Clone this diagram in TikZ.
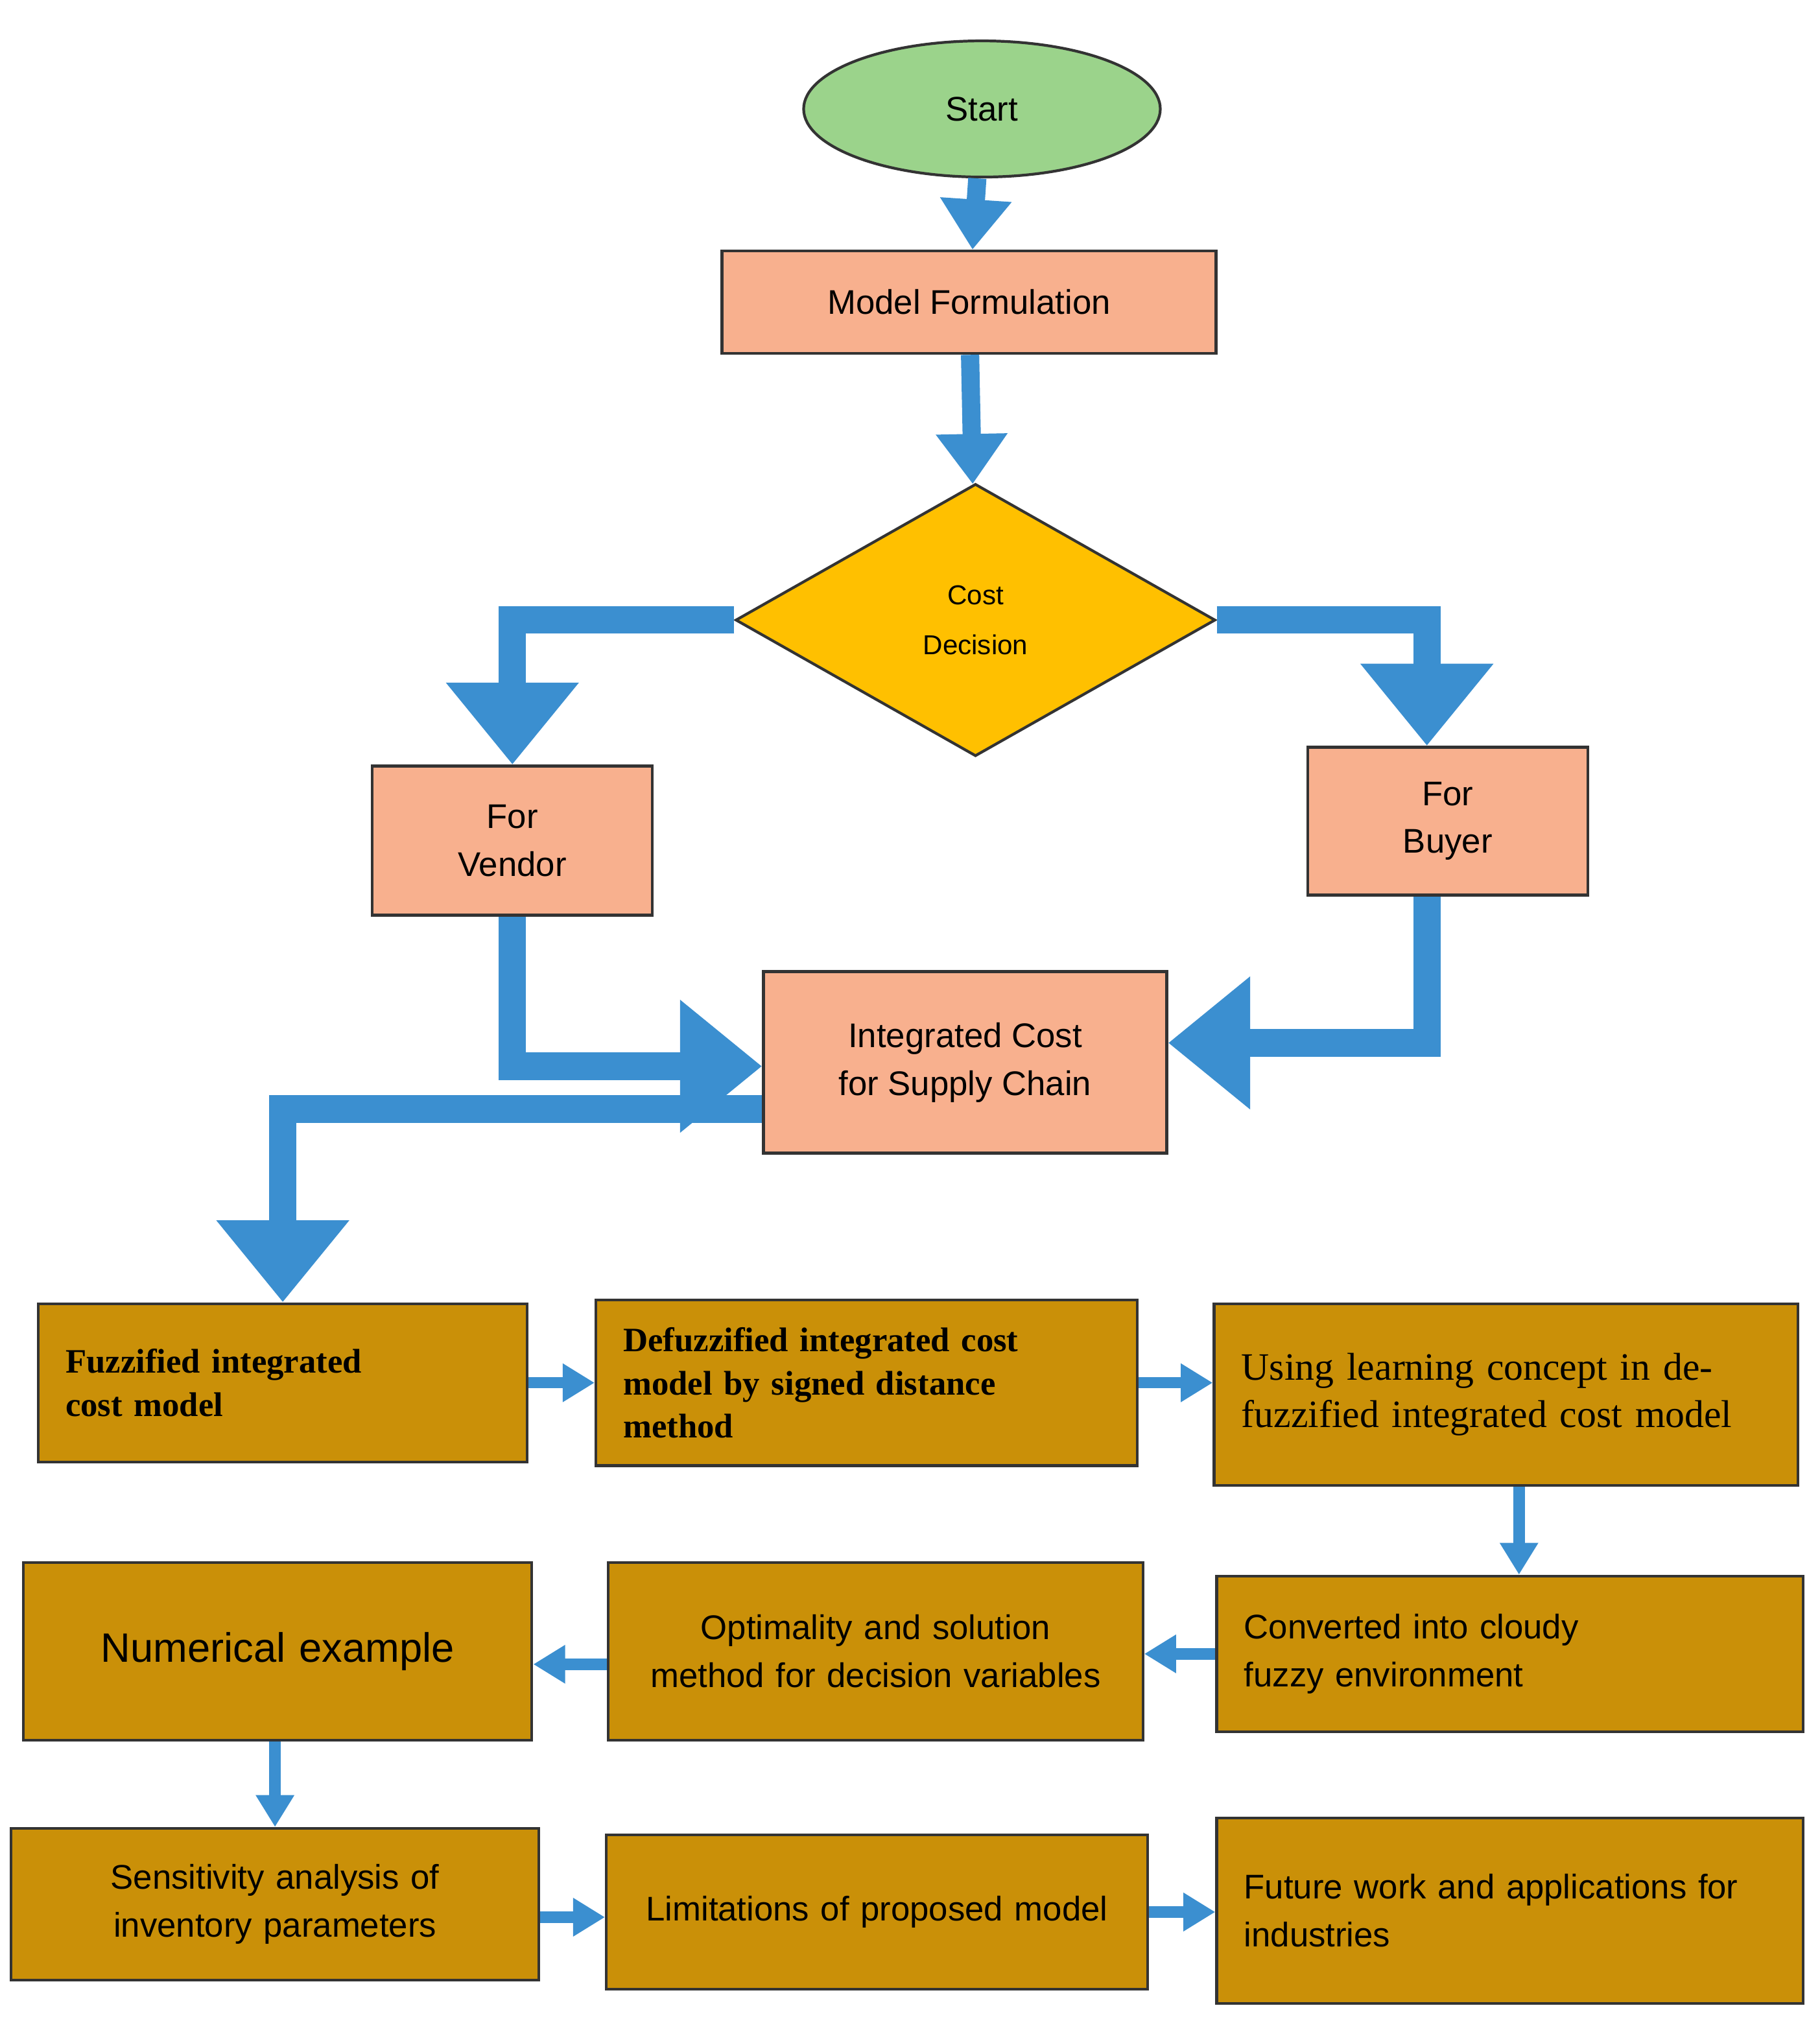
\documentclass[tikz,border=0pt]{standalone}
\usepackage{fontspec}
\setmainfont{Liberation Sans}
\newfontfamily\serifbf{Liberation Serif}
\usetikzlibrary{shapes.geometric,arrows.meta}
\definecolor{flowblue}{HTML}{3B8FD0}
\definecolor{salmon}{HTML}{F8B08E}
\definecolor{gold}{HTML}{CA9008}
\definecolor{startgreen}{HTML}{9BD38B}
\definecolor{decyellow}{HTML}{FFC000}
\tikzset{
  stage/.style={draw=black!80,line width=1.2pt,fill=salmon,align=center,
    font=\fontsize{15}{21}\selectfont,inner sep=4pt},
  task/.style={draw=black!80,line width=1.2pt,fill=gold,inner sep=12pt,
    font=\fontsize{15}{21}\selectfont},
  thin flow/.style={flowblue,line width=5pt,-{Triangle[length=14pt,width=16pt]}},
  flow/.style={flowblue,line width=8pt,-{Triangle[length=22pt,width=30pt]}},
  big flow/.style={flowblue,line width=12pt,-{Triangle[length=36pt,width=56pt]}}
}
\begin{document}
\begin{tikzpicture}[x=0.02cm,y=-0.02cm]
  \useasboundingbox[fill=white] (0,0) rectangle (1403,1575);
  \node[ellipse,draw=black!80,line width=1.2pt,fill=startgreen,minimum width=5.5cm,
    minimum height=2.1cm,font=\fontsize{15}{19}\selectfont] (start) at (757,84) {Start};
  \node[stage,minimum width=7.62cm,minimum height=1.58cm] (model) at (747,233) {Model Formulation};
  \node[diamond,draw=black!80,line width=1.2pt,fill=decyellow,minimum width=7.4cm,
    minimum height=4.2cm,aspect=1.77,align=center,font=\fontsize{12}{22}\selectfont]
    (dec) at (752,478) {Cost\\Decision};
  \node[stage,minimum width=4.32cm,minimum height=2.3cm] (vendor) at (395,648) {For\\Vendor};
  \node[stage,minimum width=4.32cm,minimum height=2.28cm] (buyer) at (1116,633) {For\\Buyer};
  \node[stage,minimum width=6.22cm,minimum height=2.8cm] (integ) at (744,819)
    {Integrated Cost\\for Supply Chain};

  % fuzzy model part
  \node[task,text width=6.7cm,minimum height=2.44cm,font=\serifbf\bfseries\fontsize{15}{19}\selectfont]
    (fuzz) at (218,1066) {Fuzzified integrated\\cost model\\[4pt]};
  \node[task,text width=7.5cm,minimum height=2.52cm,font=\serifbf\bfseries\fontsize{15}{19}\selectfont]
    (defuzz) at (668,1066) {Defuzzified integrated cost model by signed distance method};
  \node[task,text width=8.16cm,minimum height=2.8cm,font=\serifbf\fontsize{17}{21}\selectfont]
    (learn) at (1161,1075) {Using learning concept in defuzzified integrated cost model};
  \node[task,text width=8.2cm,minimum height=2.4cm] (cloudy) at (1164,1275)
    {Converted into cloudy\\fuzzy environment};
  \node[task,text width=7.4cm,minimum height=2.74cm,align=center] (optim) at (675,1273)
    {Optimality and solution method for decision variables};
  \node[task,text width=7.0cm,minimum height=2.74cm,align=center,font=\fontsize{18}{22}\selectfont]
    (numer) at (214,1273) {Numerical example};
  \node[task,text width=7.3cm,minimum height=2.34cm,align=center] (sens) at (212,1468)
    {Sensitivity analysis of inventory parameters};
  \node[task,text width=7.5cm,minimum height=2.38cm,align=center] (limit) at (676,1474)
    {Limitations of proposed model};
  \node[task,text width=8.2cm,minimum height=2.86cm] (future) at (1164,1473)
    {Future work and applications for industries};

  \draw[flow] (start) -- (model);
  \draw[flow] (model) -- (dec);
  \draw[big flow] (dec.west) -| (vendor.north);
  \draw[big flow] (dec.east) -| ([xshift=-0.32cm]buyer.north);
  \draw[big flow] (vendor.south) |- ([yshift=-0.06cm]integ.west);
  \draw[big flow] ([xshift=-0.32cm]buyer.south) |- ([yshift=0.3cm]integ.east);
  \draw[big flow] ([yshift=-0.72cm]integ.west) -| (fuzz.north);
  \draw[thin flow] (fuzz) -- (defuzz);
  \draw[thin flow] (defuzz) -- (learn.west |- defuzz);
  \draw[thin flow] ([xshift=0.2cm]learn.south) -- ([xshift=0.2cm]learn.south |- cloudy.north);
  \draw[thin flow] (cloudy.west) -- (optim.east |- cloudy.west);
  \draw[thin flow] ([yshift=-0.2cm]optim.west) -- ([yshift=-0.2cm]numer.east);
  \draw[thin flow] (numer.south -| sens.north) -- (sens.north);
  \draw[thin flow] ([yshift=-0.2cm]sens.east) -- ([yshift=-0.2cm]sens.east -| limit.west);
  \draw[thin flow] (limit.east) -- (limit.east -| future.west);
\end{tikzpicture}
\end{document}
